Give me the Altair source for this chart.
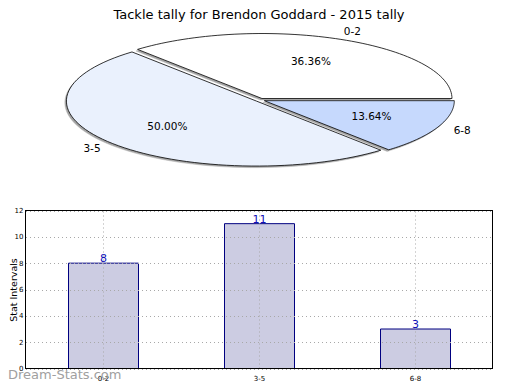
import altair as alt
import pandas as pd

# ---------------- data ----------------
categories = ["0-2", "3-5", "6-8"]
tallies = [8, 11, 3]
order_idx = [0, 1, 2]
pie_colors = ["#ffffff", "#eaf1fd", "#c6d9fd"]
y_ticks = [0, 2, 4, 6, 8, 10, 12]
title_text = "Tackle tally for Brendon Goddard - 2015 tally"
y_title = "Stat Intervals"
x_title = "Frequency"
watermark = "Dream-Stats.com"

df = pd.DataFrame({"cat": categories, "v": tallies, "idx": order_idx})

# ---------------- geometry / style ----------------
W, H = 468, 343
N = 72          # arc resolution
E = 0.025       # explode
PCX, PCY, RX, RY = 235, 74, 190, 65
FONT = "DejaVu Sans"

pie_x = alt.Scale(domain=[-1, 1], range=[PCX - RX, PCX + RX])
pie_y = alt.Scale(domain=[-1, 1], range=[PCY + RY, PCY - RY])

base_pie = (
    alt.Chart(df)
    .transform_joinaggregate(total="sum(v)")
    .transform_window(cum="sum(v)", sort=[alt.SortField("idx", order="ascending")], frame=[None, 0])
    .transform_calculate(a0="2*PI*(datum.cum-datum.v)/datum.total")
    .transform_calculate(a1="2*PI*datum.cum/datum.total")
    .transform_calculate(mid="(datum.a0+datum.a1)/2")
    .transform_calculate(ox=f"{E}*cos(datum.mid)")
    .transform_calculate(oy=f"{E}*sin(datum.mid)")
)


def slice_poly(dx, dy):
    return (
        base_pie
        .transform_calculate(step=f"sequence(0,{N + 3})")
        .transform_flatten(["step"])
        .transform_calculate(t=f"clamp(datum.step-1,0,{N})/{N}")
        .transform_calculate(edge=f"datum.step==0 || datum.step=={N + 2}")
        .transform_calculate(ang="datum.a0+(datum.a1-datum.a0)*datum.t")
        .transform_calculate(px=f"datum.ox + (datum.edge ? 0 : cos(datum.ang)) + ({dx})")
        .transform_calculate(py=f"datum.oy + (datum.edge ? 0 : sin(datum.ang)) + ({dy})")
    )


shadow = slice_poly(-1.6 / RX, -1.6 / RY).mark_line(
    fill="#a4a4a4", stroke="#b8b8b8", strokeWidth=0.5
).encode(
    x=alt.X("px:Q", scale=pie_x, axis=None),
    y=alt.Y("py:Q", scale=pie_y, axis=None),
    detail="cat:N",
    order="step:Q",
)

slices = slice_poly(0, 0).mark_line(stroke="black", strokeWidth=0.8).encode(
    x=alt.X("px:Q", scale=pie_x, axis=None),
    y=alt.Y("py:Q", scale=pie_y, axis=None),
    detail="cat:N",
    order="step:Q",
    fill=alt.Fill("cat:N", scale=alt.Scale(domain=categories, range=pie_colors), legend=None),
)

pct_text = (
    base_pie
    .transform_calculate(lx="datum.ox+0.62*cos(datum.mid)")
    .transform_calculate(ly="datum.oy+0.62*sin(datum.mid)")
    .transform_calculate(pct="format(datum.v/datum.total,'.2%')")
    .mark_text(font=FONT, fontSize=10.5, color="black")
    .encode(
        x=alt.X("lx:Q", scale=pie_x, axis=None),
        y=alt.Y("ly:Q", scale=pie_y, axis=None),
        text="pct:N",
    )
)

cat_text = (
    base_pie
    .transform_calculate(lx="1.17*cos(datum.mid)")
    .transform_calculate(ly="1.15*sin(datum.mid)")
    .mark_text(font=FONT, fontSize=10.5, color="black")
    .encode(
        x=alt.X("lx:Q", scale=pie_x, axis=None),
        y=alt.Y("ly:Q", scale=pie_y, axis=None),
        text="cat:N",
    )
)

pie = alt.layer(shadow, slices, pct_text, cat_text)

# ---------------- bar chart ----------------
band_scale = alt.Scale(domain=categories, paddingInner=0, paddingOuter=0, range=[0.5, W + 0.5])
bar_x = alt.X(
    "cat:N",
    scale=band_scale,
    axis=alt.Axis(
        orient="bottom", title=x_title, labelAngle=0, labelFontSize=7, labelFont=FONT,
        labelColor="black", labelPadding=5, ticks=False, tickSize=0, domain=False,
        grid=False, titleFont=FONT, titleFontSize=10, titleFontWeight="normal",
        titleColor="black", titlePadding=1,
    ),
)
bar_y_scale = alt.Scale(domain=[0, 12], range=[H - 0.5, 184.5], nice=False, zero=True)
bar_y = alt.Y(
    "v:Q",
    scale=bar_y_scale,
    axis=alt.Axis(
        orient="left", values=y_ticks, title=y_title, labelFontSize=7, labelFont=FONT,
        labelColor="black", labelPadding=2, ticks=False, tickSize=0, domain=False,
        grid=True, gridDash=[1, 3], gridColor="#a8a8a8", gridWidth=1, zindex=1,
        titleFont=FONT, titleFontSize=9.5, titleFontWeight="normal", titleColor="black",
        titleX=-7, titleBaseline="bottom",
    ),
)

bars = alt.Chart(df).mark_bar(size=70, fill="#ccccE2", stroke="#000080", strokeWidth=1).encode(
    x=bar_x, y=bar_y
)

vgrid = alt.Chart(df).mark_rule(strokeDash=[1, 3], color="#a8a8a8", strokeWidth=1).encode(
    x=alt.X("cat:N", scale=band_scale),
    y=alt.datum(0),
    y2=alt.datum(12),
)

bar_vals = alt.Chart(df).mark_text(
    baseline="bottom", dy=1, fontSize=11, font=FONT, color="#1010b8"
).encode(x=bar_x, y=bar_y, text="v:Q")

frame = alt.Chart(df).mark_rect(fill="transparent", stroke="black", strokeWidth=1).encode(
    x=alt.value(0.5), x2=alt.value(W - 0.5), y=alt.datum(12), y2=alt.datum(0)
)

barpart = alt.layer(bars, vgrid, bar_vals, frame)

wm = alt.Chart(pd.DataFrame({"t": [watermark]})).mark_text(
    align="left", baseline="middle", fontSize=13, font=FONT, color="#a0a0a0"
).encode(x=alt.value(-17), y=alt.value(349), text="t:N")

chart = (
    alt.layer(pie, barpart, wm)
    .resolve_scale(x="independent", y="independent", fill="independent")
    .properties(
        width=W,
        height=H,
        title=alt.Title(title_text, font=FONT, fontSize=13, fontWeight="normal",
                        color="black", anchor="middle", frame="group", offset=4),
        autosize=alt.AutoSizeParams(type="none"),
        padding={"left": 17, "top": 18, "right": 19, "bottom": 13},
    )
    .configure_view(stroke=None)
)

chart.save("out.html", embed_options={"renderer": "svg", "actions": False})
